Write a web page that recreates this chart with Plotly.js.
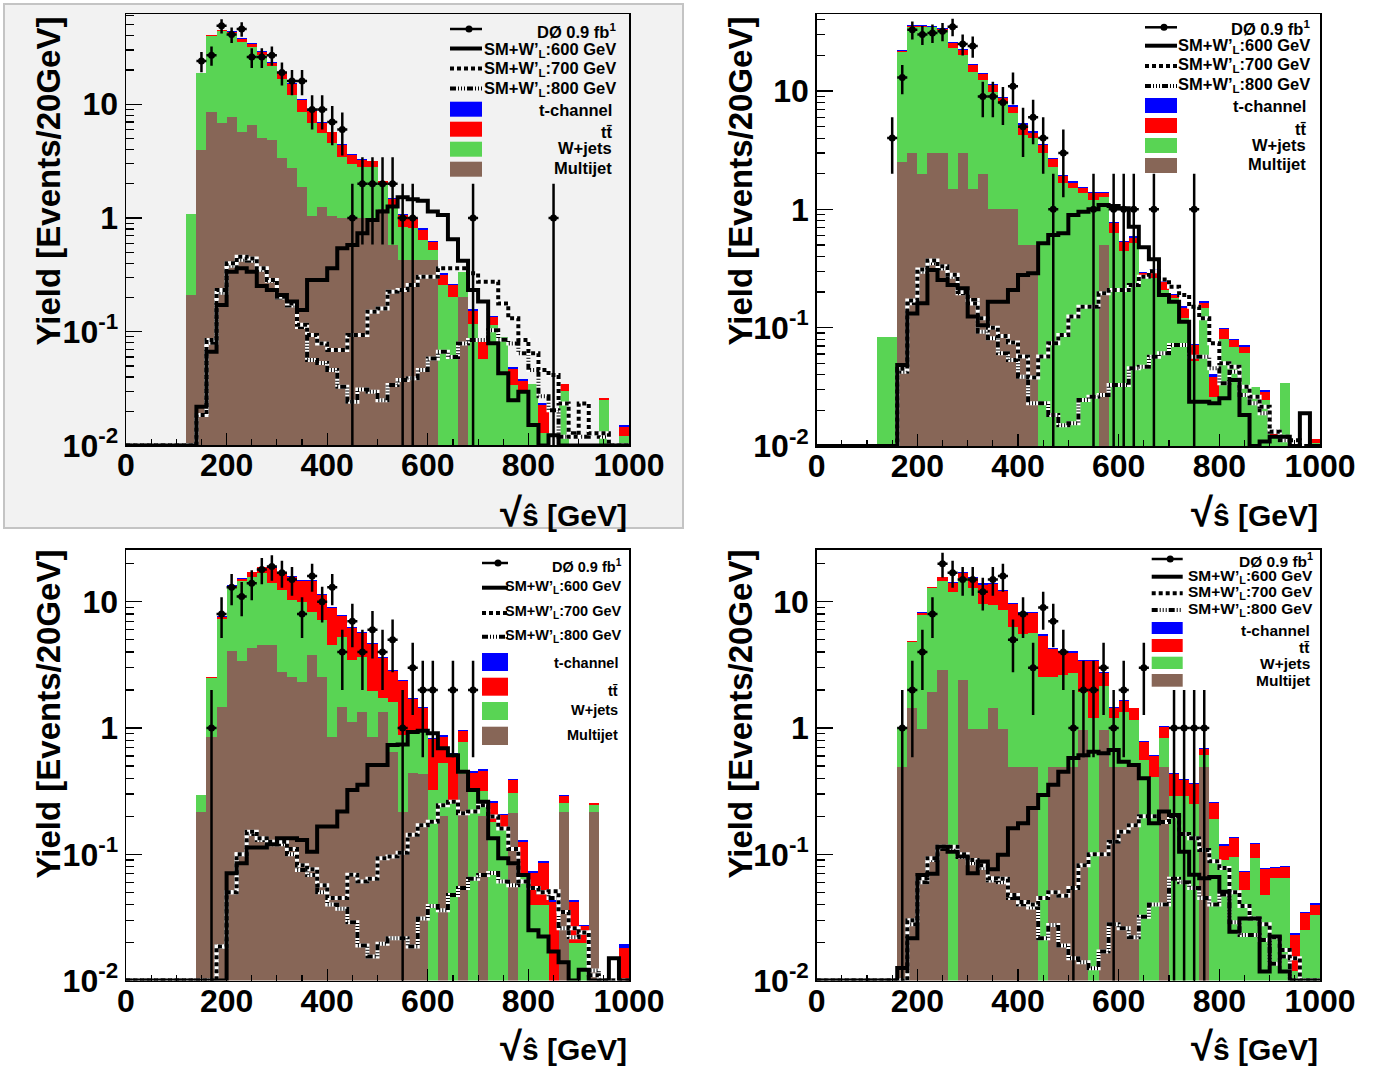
<!DOCTYPE html>
<html><head><meta charset="utf-8">
<script src="https://cdn.plot.ly/plotly-3.0.1.min.js"></script>
<style>html,body{margin:0;padding:0;background:#fff}#chart{width:1382px;height:1070px}</style>
</head><body><div id="chart"></div>
<script>
// ---------- categories ----------
const N_BINS = 50, BIN_W = 20;           // sqrt(s-hat) bins, 0-1000 GeV, 20 GeV wide
const xTickVals = [0, 200, 400, 600, 800, 1000];
const yTickVals = [0.01, 0.1, 1, 10];
const yTickText = ['10<sup>-2</sup>', '10<sup>-1</sup>', '1', '10'];
const yMinorVals = [0.02,0.03,0.04,0.05,0.06,0.07,0.08,0.09,0.2,0.3,0.4,0.5,0.6,0.7,0.8,0.9,2,3,4,5,6,7,8,9,20,30,40,50,60];
const legendLabels = ['DØ 0.9 fb<sup>1</sup>', 'SM+W’<sub>L</sub>:600 GeV', 'SM+W’<sub>L</sub>:700 GeV', 'SM+W’<sub>L</sub>:800 GeV', 't-channel', 'tt̄', 'W+jets', 'Multijet'];
const yTitle = 'Yield [Events/20GeV]';
const xTitle = '<span style="font-size:40px">√</span>ŝ [GeV]';

// ---------- panel 1 (top left) ----------
const multijet1 = [0,0,0,0,0,0,0.21,3.96,8.6,6.8, 7.7,5.7,6.6,5.1,4.9,3.35,2.74,1.89,1.05,1.24, 1.05,1.0,1.0,1.0,1.0,1.2,0.58,0.43,0.43,0.43, 0.43,0,0,0.2,0,0,0,0,0,0, 0,0,0,0,0,0,0,0,0,0];
const wjets1 = [0,0,0,0,0,0,0.87,14.7,31.6,37, 34.8,29.9,25.5,22.1,16.8,13.5,9.4,6.7,5.75,4.3, 3.5,2.47,1.98,1.79,1.79,0.8,0.72,0.41,0.38,0.21, 0.09,0.258,0.2,0.137,0.118,0.058,0.115,0.09,0.034,0.031, 0.035,0.0128,0,0.03,0,0,0,0.025,0,0.012];
const ttbar1 = [0,0,0,0,0,0,0,0.2,0.4,0.8, 0.8,1.9,2.0,1.6,1.6,2.2,2.9,2.3,1.9,1.35, 1.1,0.9,0.62,0.47,0.35,0.1,0.17,0.22,0.16,0.15, 0.1,0.06,0.055,0,0.035,0.027,0.02,0,0.013,0.006, 0,0.01,0,0.005,0,0,0,0.001,0,0.0026];
const tchan1 = [0,0,0,0,0,0,0,0.15,0.3,0.6, 0.6,0.6,0.5,0.4,0.4,0.3,0.3,0.2,0.2,0.15, 0.1,0.08,0.06,0.05,0.05,0.03,0.02,0.02,0.02,0.02, 0.01,0.008,0.007,0,0.004,0.003,0.003,0,0.002,0.001, 0,0.001,0,0,0,0,0,0,0,0.0004];
const wp600_1 = [0,0,0,0,0,0,0,0.0219,0.0667,0.172, 0.337,0.361,0.337,0.252,0.233,0.21,0.184,0.155,0.285,0.285, 0.361,0.541,0.578,0.733,0.96,1.14,1.26,1.52,1.46,1.42, 1.14,1.06,0.65,0.42,0.233,0.184,0.079,0.043,0.025,0.0297, 0.0151,0,0.0123,0,0,0,0,0,0,0];
const wp700_1 = [0,0,0,0,0,0,0,0.0185,0.0845,0.233, 0.399,0.457,0.44,0.361,0.285,0.203,0.177,0.115,0.0935,0.0789, 0.069,0.069,0.0935,0.0935,0.15,0.16,0.225,0.233,0.258,0.305, 0.305,0.361,0.361,0.361,0.326,0.275,0.275,0.177,0.131,0.0845, 0.0645,0.046,0.0416,0.0234,0.0119,0.0234,0.0128,0.0128,0,0];
const wp800_1 = [0,0,0,0,0,0,0,0.0185,0.08,0.22, 0.38,0.43,0.42,0.35,0.28,0.2,0.17,0.11,0.0563,0.053, 0.046,0.0328,0.0242,0.031,0.0297,0.025,0.034,0.0376,0.039,0.046, 0.0582,0.0667,0.06,0.0789,0.0845,0.0845,0.103,0.085,0.0789,0.0645, 0.046,0.027,0.0204,0.0119,0.0128,0.0119,0.0128,0.0119,0,0];
const data1 = [null,null,null,null,null,null,null,24,27,49, 41,46,26,26,27,19,16,16,9,9, 7,6,1,2,2,2,2,1,1,null, null,null,null,null,1,null,null,null,null,null, null,null,1,null,null,null,null,null,null,null];

// ---------- panel 2 (top right) ----------
const multijet2 = [0,0,0,0,0,0,0,0,2.53,3.0, 2.0,3.0,3.0,1.5,3.0,1.5,2.0,1.0,1.0,1.0, 0.5,0.5,0,0,0,0,0,0,0.5,0, 0,0,0,0,0,0,0,0,0,0, 0,0,0,0,0,0,0,0,0,0];
const wjets2 = [0,0,0,0,0,0,0.084,0.084,19,32, 33,31.5,29.5,21.5,17.1,13.1,10.4,8.9,6.9,5.5, 3.75,3.48,3.01,2.3,1.66,1.52,1.37,1.2,0.76,0.635, 0.448,0.516,0.27,0.261,0.208,0.177,0.12,0.052,0.148,0.026, 0.08,0.069,0.061,0.0317,0.0245,0.0116,0.034,0,0,0.0105];
const ttbar2 = [0,0,0,0,0,0,0,0,0.3,0.5, 0.5,0.6,0.8,2.3,2.1,2.0,1.4,1.3,0.8,0.9, 0.95,0.47,0.49,0.35,0.25,0.16,0.15,0.17,0.12,0.125, 0.078,0.061,0.018,0.046,0.037,0.012,0.028,0.019,0.015,0.0126, 0.017,0.01,0.008,0,0.0043,0.0016,0,0,0,0.001];
const tchan2 = [0,0,0,0,0,0,0,0,0.3,0.5, 0.5,0.5,0.5,0.5,0.4,0.35,0.3,0.25,0.2,0.15, 0.12,0.1,0.08,0.06,0.05,0.04,0.04,0.03,0.03,0.02, 0.015,0.015,0.008,0.008,0.006,0.005,0.004,0.002,0.004,0.002, 0.003,0.002,0.002,0,0.001,0,0,0,0,0];
const wp600_2 = [0,0,0,0,0,0,0,0,0.0484,0.132, 0.161,0.307,0.253,0.23,0.215,0.124,0.105,0.166,0.166,0.208, 0.279,0.288,0.516,0.607,0.627,0.895,0.955,1.0,1.09,1.07, 1.02,0.714,0.478,0.378,0.189,0.166,0.112,0.0237,0.0237,0.023, 0.0253,0.0361,0.0183,0,0.0109,0.012,0.012,0,0.0189,0];
const wp700_2 = [0,0,0,0,0,0,0,0,0.045,0.17, 0.31,0.37,0.33,0.28,0.2,0.16,0.12,0.1,0.085,0.075, 0.057,0.038,0.057,0.0738,0.0867,0.124,0.15,0.15,0.195,0.208, 0.208,0.23,0.27,0.3,0.255,0.222,0.189,0.15,0.12,0.0738, 0.05,0.0468,0.0317,0.0261,0.0215,0.0132,0.012,0.0112,0,0];
const wp800_2 = [0,0,0,0,0,0,0,0,0.0425,0.161, 0.297,0.35,0.317,0.27,0.195,0.171,0.0925,0.0813,0.0607,0.0533, 0.0385,0.023,0.023,0.0183,0.015,0.0156,0.0245,0.0261,0.027,0.0328, 0.0328,0.0453,0.0468,0.0569,0.0607,0.0714,0.0714,0.0569,0.0569,0.0453, 0.0339,0.0425,0.027,0.023,0.0189,0.0132,0.0112,0,0,0];
const data2 = [null,null,null,null,null,null,null,4,13,33, 30,31,32,35,25,24,9,9,8,11, 5,6,4,1,3,null,null,1,null,1, 1,1,null,1,null,null,null,1,null,null, null,null,null,null,null,null,null,null,null,null];

// ---------- panel 3 (bottom left) ----------
const multijet3 = [0,0,0,0,0,0,0,0.218,0.854,1.47, 4.1,3.4,4.27,4.54,4.54,2.79,2.55,2.33,3.78,2.55, 0.854,1.47,1.12,1.35,0.854,1.35,0.65,0.218,0.44,0.43, 0,0.2,0,0.43,0,0.2,0,0,0.211,0, 0,0,0,0.218,0,0,0.218,0,0,0];
const wjets3 = [0,0,0,0,0,0,0,0.077,1.65,5.83, 8.7,11.3,11.5,12.2,9.5,9.6,7.75,7.67,4.55,4.6, 3.69,3.83,2.33,2.32,1.1,0.37,0.97,0.67,0.53,0.54, 0.323,0.325,0.269,0.35,0.323,0.12,0.181,0.16,0.093,0.0708, 0.0397,0.0397,0,0.036,0.02,0.02,0.03,0,0,0.005];
const ttbar3 = [0,0,0,0,0,0,0,0,0.03,0.3, 0.6,0.4,1.3,2.0,4.4,4.1,5.3,4.5,6.3,4.25, 4.4,2.4,2.75,2.0,2.65,1.87,1.2,1.47,0.72,0.47, 0.49,0.33,0.35,0.17,0.12,0.14,0.075,0.045,0.086,0.055, 0.031,0.045,0.042,0.038,0.022,0.007,0.006,0,0,0.013];
const tchan3 = [0,0,0,0,0,0,0,0,0.02,0.1, 0.2,0.2,0.2,0.25,0.3,0.25,0.25,0.25,0.25,0.2, 0.2,0.15,0.13,0.12,0.1,0.08,0.06,0.05,0.04,0.03, 0.02,0.02,0.015,0.02,0.01,0.01,0.006,0.004,0.006,0.004, 0.003,0.004,0.002,0.003,0.0015,0.0005,0.001,0,0,0.0015];
const wp600_3 = [0,0,0,0,0,0,0,0,0,0, 0.0708,0.0849,0.113,0.113,0.12,0.134,0.134,0.13,0.105,0.166, 0.166,0.218,0.323,0.355,0.51,0.51,0.733,0.74,0.93,0.95, 0.91,0.69,0.61,0.45,0.323,0.261,0.134,0.093,0.085,0.0686, 0.025,0.0223,0.017,0.014,0,0.0122,0,0,0.015,0];
const wp700_3 = [0,0,0,0,0,0,0,0,0,0.0186, 0.05,0.1,0.151,0.134,0.126,0.126,0.11,0.082,0.076,0.057, 0.045,0.045,0.069,0.061,0.064,0.093,0.096,0.103,0.143,0.17, 0.181,0.245,0.261,0.211,0.218,0.245,0.199,0.16,0.11,0.061, 0.054,0.05,0.051,0.035,0.026,0.024,0.011,0,0,0];
const wp800_3 = [0,0,0,0,0,0,0,0,0,0.0186, 0.05,0.1,0.145,0.13,0.12,0.12,0.1,0.075,0.0686,0.05, 0.04,0.037,0.029,0.019,0.0155,0.0196,0.0216,0.0216,0.0186,0.031, 0.039,0.036,0.0476,0.054,0.064,0.0686,0.071,0.061,0.057,0.061, 0.054,0.05,0.045,0.026,0.022,0.024,0.012,0,0,0];
const data3 = [null,null,null,null,null,null,null,null,1,8, 13,11,14,18,19,17,15,8,16,10, 13,4,7,4,6,4,5,1,3,2, 2,null,2,null,2,null,null,null,null,null, null,null,null,null,null,null,null,null,null,null];

// ---------- panel 4 (bottom right) ----------
const multijet4 = [0,0,0,0,0,0,0,0,0.49,1.45, 0.98,1.94,2.88,0,2.4,0.98,0.98,1.45,0.98,0.49, 0.49,0.49,0,0.49,0.49,0.49,0.97,0,0.97,0.49, 0.49,0.49,0,0,0.49,0,0,0,0.49,0, 0,0,0,0,0,0,0,0,0,0];
const wjets4 = [0,0,0,0,0,0,0,0,0.53,3.35, 6.9,10.9,11.7,12.0,12.9,11.8,8.7,7.95,7.6,5.85, 5.1,5.2,2.55,2.06,2.14,2.22,0.97,1.2,1.17,0.71, 0.86,0.67,0.56,0.41,0.34,0.29,0.29,0.25,0.12,0.19, 0.09,0.096,0.052,0.093,0.048,0.065,0.065,0.012,0.025,0.033];
const ttbar4 = [0,0,0,0,0,0,0,0,0.005,0.05, 0.3,0.2,1.0,2.2,1.7,2.7,4.0,4.35,3.6,3.2, 2.6,2.5,2.85,1.65,1.36,1.25,1.45,2.2,0.6,0.25, 0.28,0.27,0.22,0.19,0.19,0.14,0.1,0.11,0.07,0.065, 0.027,0.039,0.02,0.027,0.028,0.013,0.014,0.011,0.009,0.007];
const tchan4 = [0,0,0,0,0,0,0,0,0,0.03, 0.1,0.1,0.2,0.2,0.3,0.3,0.3,0.25,0.2,0.15, 0.15,0.15,0.12,0.1,0.08,0.08,0.06,0.05,0.05,0.02, 0.03,0.02,0.01,0.01,0.01,0.01,0.008,0.008,0.01,0.005, 0.003,0.003,0.002,0.002,0.002,0.002,0.002,0.001,0.001,0.001];
const wp600_4 = [0,0,0,0,0,0,0,0,0.0126,0.0216, 0.0686,0.07,0.115,0.105,0.096,0.0708,0.0878,0.076,0.099,0.161, 0.176,0.233,0.295,0.355,0.45,0.578,0.61,0.65,0.63,0.67, 0.54,0.51,0.4,0.176,0.218,0.205,0.105,0.069,0.0645,0.066, 0.0506,0.0244,0.031,0.031,0.0118,0.0223,0.0118,0,0,0];
const wp700_4 = [0,0,0,0,0,0,0,0,0,0.03, 0.0645,0.093,0.115,0.115,0.1,0.09,0.082,0.0645,0.064,0.0476, 0.042,0.04,0.045,0.05,0.047,0.054,0.082,0.1,0.1,0.126, 0.151,0.17,0.2,0.2,0.18,0.2,0.145,0.134,0.108,0.088, 0.078,0.05,0.039,0.031,0.028,0.022,0.0175,0.015,0,0];
const wp800_4 = [0,0,0,0,0,0,0,0,0,0.028, 0.06,0.09,0.11,0.11,0.095,0.085,0.078,0.062,0.06,0.045, 0.04,0.038,0.0216,0.0276,0.019,0.015,0.014,0.0125,0.017,0.028, 0.026,0.022,0.032,0.04,0.04,0.064,0.06,0.054,0.045,0.04, 0.048,0.029,0.023,0.023,0.021,0.0136,0.0155,0,0,0];
const data4 = [null,null,null,null,null,null,null,null,1,2, 4,8,20,17,15,15,12,15,16,5, 8,3,9,7,4,1,2,2,3,1, 2,null,3,null,null,1,1,1,1,null, null,null,null,null,null,null,null,null,null,null];

// ---------- styling ----------
const W = 1382, H = 1070;
const px = x => x / W, py = y => 1 - y / H;
const FONT = 'Liberation Sans, Arial, Helvetica, sans-serif';
const C_MJ = '#876657', C_WJ = '#59d454', C_TT = '#ff0000', C_TC = '#0000ff';
const DASH700 = '4px,3px';
const DASH800 = '6px,2px,1px,2px,1px,2px,1px,2px';
const Y_FLOOR = 0.01;   // empty bins of the signal curves are drawn on the frame bottom

const centers = Array.from({length: N_BINS}, (_, i) => (i + 0.5) * BIN_W);
const edges = Array.from({length: N_BINS + 1}, (_, i) => i * BIN_W);

const panels = [
  {x0:126, x1:629, yTop:14, yBot:445.4, ymax:1.794,
   mj:multijet1, wj:wjets1, tt:ttbar1, tc:tchan1, s6:wp600_1, s7:wp700_1, s8:wp800_1, data:data1,
   yt:{x:48, y:15}, xt:{x:629, y:512},
   leg:{sx0:450, sx1:482, rowY:[29,48.5,68.5,88.5], txtY:[31,49.5,69,89], txtR:618,
        box:[[101.7,116.7],[121.7,136.7],[141.7,156.7],[161.7,176.7]], boxTxtY:[110,132,148,168], boxTxtR:614, size:16.5}},
  {x0:816.7, x1:1320, yTop:14, yBot:446, ymax:1.651,
   mj:multijet2, wj:wjets2, tt:ttbar2, tc:tchan2, s6:wp600_2, s7:wp700_2, s8:wp800_2, data:data2,
   yt:{x:740, y:15}, xt:{x:1320, y:512},
   leg:{sx0:1145, sx1:1177, rowY:[27.3,45.7,66,86], txtY:[28.5,46,65.5,85], txtR:1312,
        box:[[98,113],[118,133],[138,153],[158,173]], boxTxtY:[106,129,145,164], boxTxtR:1308, size:16.5}},
  {x0:126, x1:629, yTop:549.7, yBot:980.6, ymax:1.412,
   mj:multijet3, wj:wjets3, tt:ttbar3, tc:tchan3, s6:wp600_3, s7:wp700_3, s8:wp800_3, data:data3,
   yt:{x:48, y:548}, xt:{x:629, y:1046},
   leg:{sx0:482, sx1:508, rowY:[563,587.7,613,636.7], txtY:[566,586.7,612,635.7], txtR:624,
        box:[[653,671],[677.7,695.7],[702,720],[726.7,745]], boxTxtY:[662.7,690.7,710,735], boxTxtR:620, size:14.5}},
  {x0:816.7, x1:1320, yTop:549.7, yBot:980.6, ymax:1.412,
   mj:multijet4, wj:wjets4, tt:ttbar4, tc:tchan4, s6:wp600_4, s7:wp700_4, s8:wp800_4, data:data4,
   yt:{x:740, y:548}, xt:{x:1320, y:1046},
   leg:{sx0:1151.7, sx1:1182.7, rowY:[559,576.7,593.3,610], txtY:[559.5,576.5,592.5,609], txtR:1315,
        box:[[622,634],[639,652],[656.7,669],[674,686.7]], boxTxtY:[630,647.5,663.5,680], boxTxtR:1311.7, size:15.5}}
];

const stepY = vals => { const y = vals.map(v => v > 0 ? v : Y_FLOOR); y.push(y[y.length - 1]); return y; };

const traces = [];
const shapes = [];
const annotations = [];

// grey pad of the first canvas
shapes.push({type:'rect', xref:'paper', yref:'paper', x0:px(4), x1:px(683), y0:py(528), y1:py(4),
  fillcolor:'#f2f2f2', line:{color:'#c4c4c4', width:2}, layer:'below'});

panels.forEach((p, k) => {
  const s = k ? String(k + 1) : '';
  const xa = 'x' + s, ya = 'y' + s;
  [[p.mj, C_MJ, 'Multijet'], [p.wj, C_WJ, 'W+jets'], [p.tt, C_TT, 'tt̄'], [p.tc, C_TC, 't-channel']].forEach(([vals, col, name]) => {
    traces.push({type:'bar', x:centers, y:vals, width:BIN_W, xaxis:xa, yaxis:ya, name,
      marker:{color:col, line:{width:0}}, showlegend:false, hoverinfo:'skip'});
  });
  [[p.s8, DASH800], [p.s7, DASH700]].forEach(([vals, dash]) => {
    const y = stepY(vals);
    traces.push({type:'scatter', mode:'lines', x:edges, y, xaxis:xa, yaxis:ya,
      line:{shape:'hv', color:'#ffffff', width:4}, showlegend:false, hoverinfo:'skip'});
    traces.push({type:'scatter', mode:'lines', x:edges, y, xaxis:xa, yaxis:ya,
      line:{shape:'hv', color:'#000000', width:4, dash}, showlegend:false, hoverinfo:'skip'});
  });
  traces.push({type:'scatter', mode:'lines', x:edges, y:stepY(p.s6), xaxis:xa, yaxis:ya,
    line:{shape:'hv', color:'#000000', width:4}, showlegend:false, hoverinfo:'skip'});
  const dx = [], dy = [];
  p.data.forEach((v, i) => { if (v !== null && v > 0) { dx.push(centers[i]); dy.push(v); } });
  traces.push({type:'scatter', mode:'markers', x:dx, y:dy, xaxis:xa, yaxis:ya,
    marker:{color:'#000', size:7, symbol:'circle'},
    error_y:{type:'data', array:dy.map(Math.sqrt), visible:true, color:'#000', thickness:2.5, width:0},
    error_x:{type:'constant', value:BIN_W / 2, visible:true, color:'#000', thickness:2.5, width:0},
    showlegend:false, hoverinfo:'skip'});

  // titles
  annotations.push({text:yTitle, xref:'paper', yref:'paper', x:px(p.yt.x), y:py(p.yt.y),
    xanchor:'center', yanchor:'top', textangle:-90, showarrow:false,
    font:{family:FONT, size:33, weight:'bold', color:'#000'}});
  annotations.push({text:xTitle, xref:'paper', yref:'paper', x:px(p.xt.x), y:py(p.xt.y),
    xanchor:'right', yanchor:'middle', showarrow:false,
    font:{family:FONT, size:30, weight:'bold', color:'#000'}});

  // legend
  const L = p.leg, lf = {family:FONT, size:L.size, weight:'bold', color:'#000'};
  const cx = (L.sx0 + L.sx1) / 2 + 3;
  shapes.push({type:'line', xref:'paper', yref:'paper', x0:px(L.sx0), x1:px(L.sx1), y0:py(L.rowY[0]), y1:py(L.rowY[0]), line:{color:'#000', width:2.5}});
  shapes.push({type:'circle', xref:'paper', yref:'paper', x0:px(cx - 3.5), x1:px(cx + 3.5), y0:py(L.rowY[0] + 3.5), y1:py(L.rowY[0] - 3.5), fillcolor:'#000', line:{color:'#000', width:0}});
  const dashes = ['solid', DASH700, DASH800];
  for (let j = 1; j <= 3; j++) {
    shapes.push({type:'line', xref:'paper', yref:'paper', x0:px(L.sx0), x1:px(L.sx1), y0:py(L.rowY[j]), y1:py(L.rowY[j]), line:{color:'#000', width:4, dash:dashes[j - 1]}});
  }
  for (let j = 0; j < 4; j++) {
    annotations.push({text:legendLabels[j], xref:'paper', yref:'paper', x:px(L.txtR), y:py(L.txtY[j]),
      xanchor:'right', yanchor:'middle', showarrow:false, font:lf});
  }
  const boxCols = [C_TC, C_TT, C_WJ, C_MJ];
  for (let j = 0; j < 4; j++) {
    shapes.push({type:'rect', xref:'paper', yref:'paper', x0:px(L.sx0), x1:px(L.sx1), y0:py(L.box[j][1]), y1:py(L.box[j][0]), fillcolor:boxCols[j], line:{width:0}});
    annotations.push({text:legendLabels[4 + j], xref:'paper', yref:'paper', x:px(L.boxTxtR), y:py(L.boxTxtY[j]),
      xanchor:'right', yanchor:'middle', showarrow:false, font:lf});
  }
});

const tickFont = {family:FONT, size:32, weight:'bold', color:'#000'};
const layout = {
  width:W, height:H, margin:{l:0, r:0, t:0, b:0},
  paper_bgcolor:'#ffffff', plot_bgcolor:'rgba(0,0,0,0)',
  barmode:'stack', bargap:0, showlegend:false, hovermode:false,
  shapes, annotations
};
panels.forEach((p, k) => {
  const s = k ? String(k + 1) : '';
  layout['xaxis' + s] = {domain:[px(p.x0), px(p.x1)], anchor:'y' + s, range:[0, 1000], fixedrange:true,
    showline:true, mirror:true, linecolor:'#000', linewidth:1.5, showgrid:false, zeroline:false,
    ticks:'inside', tickmode:'array', tickvals:xTickVals, ticklen:12, tickwidth:1.2, tickcolor:'#000',
    ticklabelstandoff:-9,
    minor:{tickmode:'linear', tick0:0, dtick:50, ticks:'inside', ticklen:6, tickwidth:1.2, tickcolor:'#000', showgrid:false},
    tickfont:tickFont};
  layout['yaxis' + s] = {domain:[py(p.yBot), py(p.yTop)], anchor:'x' + s, type:'log', range:[-2, p.ymax], fixedrange:true,
    showline:true, mirror:true, linecolor:'#000', linewidth:1.5, showgrid:false, zeroline:false,
    ticks:'inside', tickmode:'array', tickvals:yTickVals, ticktext:yTickText, ticklen:16, tickwidth:1.2, tickcolor:'#000',
    minor:{tickmode:'array', tickvals:yMinorVals, ticks:'inside', ticklen:8, tickwidth:1.2, tickcolor:'#000', showgrid:false},
    tickfont:tickFont};
});

Plotly.newPlot('chart', traces, layout, {staticPlot:true, displayModeBar:false});
</script>
</body></html>
